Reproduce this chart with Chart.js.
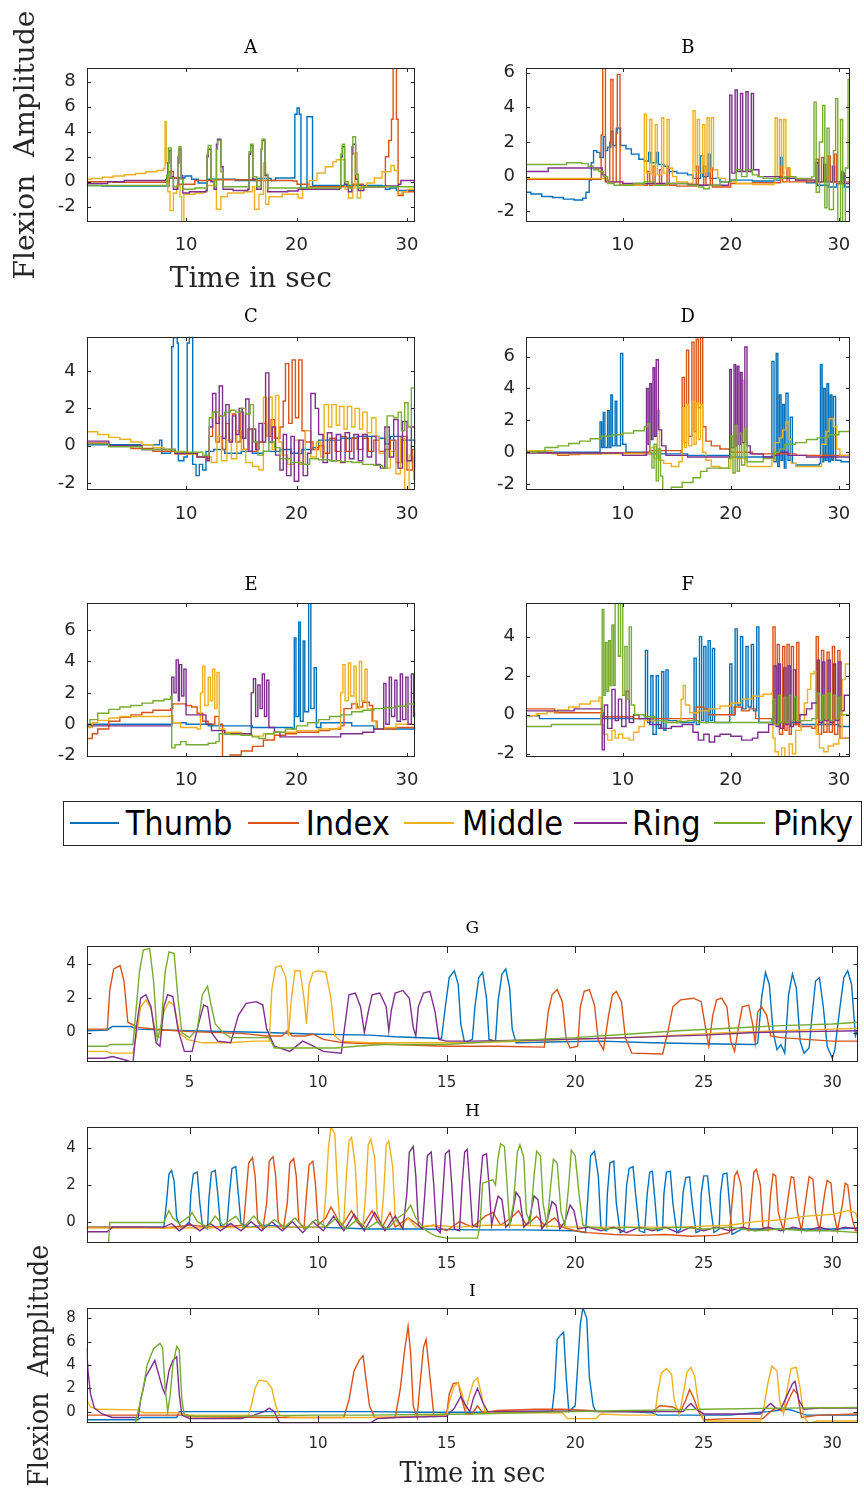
<!DOCTYPE html>
<html>
<head>
<meta charset="utf-8">
<script src="https://cdn.jsdelivr.net/npm/chart.js@4.4.1/dist/chart.umd.min.js"></script>
<style>
  html, body { margin: 0; padding: 0; background: #fff; width: 864px; height: 1490px; overflow: hidden; position: relative; }
  canvas { position: absolute; }
  #legend { position: absolute; left: 63px; top: 801px; width: 797px; height: 43px; border: 1px solid #262626; background: #fff; }
  #legend .ln { position: absolute; top: 20px; height: 2px; }
  #legend .tx { position: absolute; top: 0; line-height: 43px; font-family: 'DejaVu Sans Condensed', 'DejaVu Sans', sans-serif; font-stretch: condensed; font-size: 34px; color: #000; white-space: nowrap; }
</style>
</head>
<body>
<div id="legend"></div>
<script>
// ---- Series names and colours (finger flexion channels) ----
const SERIES = ['Thumb', 'Index', 'Middle', 'Ring', 'Pinky'];
const COLORS = ['#0072BD', '#D95319', '#EDB120', '#7E2F8E', '#77AC30'];

// ---- Tick labels ----
const X_TICKS_SMALL = [10, 20, 30];
const X_TICKS_WIDE = [5, 10, 15, 20, 25, 30];
const Y_TICKS_A = [-2, 0, 2, 4, 6, 8];
const Y_TICKS_B = [-2, 0, 2, 4, 6];
const Y_TICKS_C = [-2, 0, 2, 4];
const Y_TICKS_D = [-2, 0, 2, 4, 6];
const Y_TICKS_E = [-2, 0, 2, 4, 6];
const Y_TICKS_F = [-2, 0, 2, 4];
const Y_TICKS_G = [0, 2, 4];
const Y_TICKS_H = [0, 2, 4];
const Y_TICKS_I = [0, 2, 4, 6, 8];

// ---- Panel A: [time s, flexion] ----
const A_thumb = [[1.0,-0.3],[2.4,-0.35],[8.25,-0.35],[8.45,0.3],[9.9,0.45],[10.5,0.2],[11.1,-0.1],[11.9,0.2],[13.75,0.2],[14.45,0.1],[16.4,0.25],[17.7,0.1],[18.1,0.3],[19.7,0.3],[19.85,5.4],[20.05,5.9],[20.25,5.4],[20.4,-0.5],[20.95,5.2],[21.45,-0.3],[27.75,-0.35],[28.05,-0.6],[28.45,-0.5],[29.05,-0.7],[30.72,-0.8]];
const A_index = [[1.0,0],[3.4,-0.05],[8.25,0],[8.45,0.8],[8.85,0.3],[9.35,-0.2],[10.8,0.1],[12.3,0.15],[16.25,0.1],[19.7,0.05],[20.05,-0.2],[21.15,-0.4],[24.1,-0.4],[25.1,-0.2],[26.05,-0.4],[27.95,-0.4],[28.05,2.0],[28.35,3.3],[28.6,5.0],[28.75,9.5],[29.05,5.0],[29.2,-1.1],[29.65,-0.8],[30.72,-0.7]];
const A_middle = [[1.0,0.2],[1.45,0.25],[2.45,0.35],[3.4,0.45],[4.4,0.55],[5.4,0.65],[6.35,0.8],[7.35,0.9],[7.95,1.05],[8.1,4.8],[8.2,1.5],[8.35,-0.8],[8.55,-2.3],[8.85,-0.9],[9.15,-0.3],[9.45,-1.2],[9.6,-3.2],[9.8,-1.0],[10.8,-0.9],[11.6,-0.8],[11.9,-0.3],[12.55,-0.6],[12.75,-2.2],[13.15,-1.2],[13.75,-0.9],[15.25,-0.8],[16.0,-0.4],[16.2,-2.2],[16.6,-1.0],[17.0,1.5],[17.2,-1.8],[17.5,-1.2],[18.7,-1.0],[19.7,-1.0],[20.15,-1.3],[20.55,-0.6],[21.15,0.1],[21.85,0.7],[22.6,1.2],[23.3,1.6],[23.6,1.75],[24.4,-0.6],[24.7,-1.3],[25.1,-0.5],[25.3,2.3],[25.5,-1.3],[25.8,-0.4],[26.35,-0.1],[27.05,0.3],[27.75,0.8],[28.55,1.3],[28.85,0.9],[29.15,-1.0],[29.55,-0.8],[30.05,-0.6],[30.72,-0.5]];
const A_ring = [[1.0,-0.15],[2.9,0],[4.4,0.1],[8.15,0.15],[8.25,0.5],[8.35,1.5],[8.45,2.5],[8.65,0.4],[8.85,-0.6],[9.25,1.5],[9.35,2.6],[9.55,0.5],[9.7,-0.9],[10.3,-0.8],[11.8,-0.7],[11.9,2.0],[12.0,2.6],[12.25,0],[12.55,-0.6],[12.75,3.0],[12.85,3.4],[13.15,1.2],[13.35,-0.6],[14.25,-0.7],[15.6,-0.6],[15.7,2.2],[15.85,2.9],[16.05,0.2],[16.4,-0.6],[16.8,2.6],[16.9,3.3],[17.15,0.5],[17.4,-0.8],[19.2,-0.75],[20.15,-0.6],[22.1,-0.6],[23.9,-0.5],[24.0,2.0],[24.15,2.8],[24.35,-0.2],[24.7,-0.8],[25.0,2.2],[25.1,3.0],[25.35,0.2],[25.6,-0.7],[26.1,-0.4],[28.05,-0.35],[29.25,-0.2],[29.45,0.1],[30.72,0.1]];
const A_pinky = [[1.0,-0.3],[8.15,-0.3],[8.25,0.5],[8.4,2.7],[8.65,0.3],[8.85,-0.4],[9.25,2.0],[9.35,2.8],[9.55,0.2],[9.7,-0.6],[10.8,-0.5],[11.8,-0.5],[11.9,2.2],[12.0,2.9],[12.25,0.2],[12.55,-0.4],[12.75,2.6],[12.85,3.3],[13.15,0.8],[13.35,-0.4],[15.6,-0.4],[15.7,2.4],[15.85,3.0],[16.05,0.4],[16.4,-0.4],[16.8,2.6],[16.9,3.4],[17.15,0.6],[17.4,-0.5],[20.15,-0.5],[23.9,-0.5],[24.0,2.2],[24.15,3.0],[24.35,0],[24.7,-0.5],[25.0,2.8],[25.1,3.6],[25.35,0.6],[25.6,-0.5],[26.1,-0.4],[30.72,-0.35]];

// ---- Panel B ----
const B_thumb = [[1.05,-0.9],[1.5,-1.0],[2.5,-1.15],[3.5,-1.2],[4.5,-1.3],[5.5,-1.35],[6.3,-1.25],[6.6,-0.9],[6.9,-0.2],[7.1,0.8],[7.3,1.5],[7.6,1.4],[7.9,1.1],[8.2,2.3],[8.4,1.5],[8.6,1.7],[8.9,2.6],[9.1,1.8],[9.4,2.8],[9.8,1.8],[10.3,1.6],[10.8,1.3],[11.5,1.0],[12,0.9],[12.4,1.4],[12.6,0.8],[13.1,1.4],[13.3,0.7],[13.8,0.6],[14.3,0.3],[15,0.2],[16,0.1],[16.5,-0.1],[17.2,1.2],[17.4,0],[17.9,1.3],[18.1,-0.1],[19,-0.3],[20,-0.2],[22,-0.25],[24,-0.2],[24.6,1.1],[24.75,-0.1],[26,-0.2],[27,-0.35],[28,-0.5],[29,-0.6],[29.8,-0.4],[30.5,-0.6],[31,-0.3]];
const B_index = [[1.05,-0.15],[7.9,-0.15],[8.0,2.4],[8.15,6.3],[8.4,-0.2],[8.8,2.0],[8.9,5.6],[9.1,-0.3],[9.4,2.5],[9.5,5.9],[9.75,-0.5],[11,-0.5],[12.3,0.3],[12.5,-0.5],[12.8,0.6],[13.0,-0.5],[13.4,0.4],[13.6,-0.5],[14.1,0.5],[14.3,-0.5],[15,-0.55],[16.8,0.6],[17.0,-0.5],[17.5,0.6],[17.7,-0.5],[18.1,0.5],[18.3,-0.6],[19.5,-0.6],[20,-0.4],[22,-0.35],[24.3,-0.35],[24.6,0.6],[24.8,-0.3],[25.2,0.5],[25.4,-0.3],[27,-0.3],[27.8,-0.3],[27.9,1.0],[28.1,-0.3],[28.4,1.1],[28.6,-0.2],[29,1.2],[29.2,-0.3],[29.6,1.3],[29.8,-0.4],[30.2,0.3],[30.4,-0.3],[31,-0.2]];
const B_middle = [[1.05,-0.1],[8,-0.1],[8.5,-0.3],[10,-0.5],[11.9,-0.4],[12.0,3.6],[12.2,0.2],[12.5,3.3],[12.7,0.1],[13.0,3.0],[13.2,0.1],[13.6,3.4],[13.8,0.2],[14.1,3.3],[14.3,0.5],[14.6,0],[15,-0.3],[16,-0.4],[16.5,3.8],[16.7,0.3],[16.9,3.3],[17.1,0.2],[17.4,3.0],[17.6,0.3],[17.8,3.4],[18.0,0.3],[18.2,3.4],[18.4,0.4],[18.8,-0.1],[19.5,-0.3],[20.5,-0.4],[22,-0.45],[24,-0.4],[24.1,3.4],[24.3,0],[24.5,3.3],[24.7,0.1],[24.9,3.3],[25.1,0.5],[25.5,0],[26,-0.2],[28,-0.3],[31,-0.3]];
const B_ring = [[1.05,0.3],[3,0.3],[3.1,0.5],[7.8,0.5],[8.1,0.1],[8.4,-0.3],[10,-0.4],[16,-0.45],[17,-0.5],[19,-0.5],[19.8,-0.3],[19.9,4.7],[20.1,0.2],[20.4,5.0],[20.6,0.3],[20.9,4.8],[21.1,0.3],[21.4,4.9],[21.6,0.3],[21.9,4.8],[22.1,0.4],[22.6,0],[24,0],[24.5,-0.1],[26,-0.2],[27.8,-0.3],[27.9,0.8],[28.1,-0.3],[28.6,0.7],[28.8,-0.3],[29.4,0.6],[29.6,-0.3],[30.3,0.2],[30.5,-0.4],[31,1.2]];
const B_pinky = [[1.05,0.7],[4.5,0.7],[4.8,0.8],[6.2,0.75],[6.8,0.6],[7.3,0.4],[7.8,0.3],[8.2,0],[8.6,-0.4],[9.2,-0.5],[10,-0.5],[11,-0.4],[12,-0.3],[13,-0.5],[14,-0.4],[15,-0.4],[16,-0.5],[17,-0.6],[17.5,-0.7],[18,-0.5],[19,-0.3],[20,-0.2],[20.5,0.4],[21,0],[21.5,0.4],[22,0.1],[22.5,0],[23,-0.1],[24,-0.1],[25,0],[26,-0.1],[27.5,0],[27.7,4.3],[27.9,-0.9],[28.2,2.0],[28.5,4.1],[28.7,-1.8],[28.9,2.8],[29.1,-1.9],[29.5,1.5],[29.7,4.5],[29.9,-2.7],[30.15,3.3],[30.35,-2.7],[30.6,0.5],[30.85,5.6],[31,5.6]];

// ---- Panel C ----
const C_thumb = [[1.0,0.05],[7.5,0.05],[7.6,0.3],[7.8,-0.4],[8.6,-0.3],[8.7,5.3],[8.85,5.8],[9.2,5.5],[9.3,-0.8],[9.8,-0.6],[10.1,5.5],[10.3,5.9],[10.6,-1.0],[10.9,-1.6],[11.2,-1.0],[11.5,-1.3],[11.8,-0.3],[12.5,-0.2],[13.5,-0.4],[15,-0.3],[16,-0.4],[17,-0.3],[18.5,-0.2],[19.5,-0.4],[20.5,-0.2],[21.5,-0.1],[22,0.3],[24,0.4],[25.5,0.5],[27.5,0.4],[28,0.1],[28.5,0.5],[29.5,0.3],[30.75,0.1]];
const C_index = [[1.0,0.15],[3,0],[5,-0.15],[7,-0.3],[9,-0.45],[11,-0.6],[11.9,-0.7],[12.1,0.5],[12.4,1.8],[12.7,0.2],[13.0,1.6],[13.3,-0.2],[13.6,1.2],[13.9,0.3],[14.2,1.7],[14.5,0.2],[14.9,1.8],[15.2,-0.2],[15.6,0.9],[16,-0.3],[16.4,0.2],[17,1.2],[17.3,0.5],[17.7,1.4],[18,0.4],[18.5,1.0],[18.8,2.4],[19.0,4.4],[19.3,1.2],[19.6,4.6],[19.9,1.5],[20.2,4.6],[20.5,0.8],[20.8,0.2],[21.5,-0.2],[22,0],[22.5,-0.4],[23,0.4],[23.5,-0.3],[24,0.5],[24.5,-0.3],[25,0.4],[25.5,-0.2],[26,0.4],[26.5,-0.3],[27,0.3],[27.5,-0.3],[28,-0.2],[28.5,0.3],[29,-0.9],[29.5,0.5],[30,-1.3],[30.5,-0.2],[30.75,-1.8]];
const C_middle = [[1.0,0.75],[2,0.6],[3,0.45],[4,0.35],[5,0.2],[6,0.05],[7,-0.1],[8,-0.2],[9,-0.3],[10,-0.45],[11,-0.6],[12,-0.6],[12.3,-0.9],[12.8,0.5],[13.2,-0.8],[13.7,0.3],[14.1,-0.7],[14.6,0.8],[15.0,-0.2],[15.4,-0.9],[16,-1.1],[16.6,-1.3],[17.0,2.6],[17.3,0.5],[17.5,2.6],[17.8,-0.2],[18.1,2.7],[18.4,0.2],[18.7,-0.5],[19.2,-1.0],[19.8,0.3],[20.3,-1.0],[20.8,0.8],[21.3,-0.6],[21.8,0.2],[22.2,-0.6],[22.5,2.2],[22.9,1.0],[23.2,2.2],[23.6,1.1],[23.9,2.1],[24.3,0.9],[24.6,2.1],[25.0,1.0],[25.3,2.0],[25.7,0.9],[26.0,1.8],[26.4,0.7],[26.8,1.5],[27.2,0.5],[27.5,-0.4],[28,-1.2],[28.5,-0.3],[29,-1.5],[29.4,0.4],[29.8,-2.4],[30.2,-0.5],[30.6,-1.8],[30.75,-2.2]];
const C_ring = [[1.0,0.25],[3,0],[6,-0.2],[9,-0.4],[11,-0.6],[11.9,-0.8],[12.1,1.0],[12.4,2.8],[12.7,1.2],[13.0,3.2],[13.3,0.4],[13.6,2.2],[13.9,0.2],[14.2,1.6],[14.5,0.6],[14.8,2.0],[15.1,0.4],[15.4,2.5],[15.7,-0.3],[16.0,0.9],[16.3,-0.2],[16.6,1.2],[16.9,0.2],[17.2,3.9],[17.5,0.2],[17.8,1.0],[18.1,-0.5],[18.5,-1.3],[18.8,0.6],[19.1,-1.6],[19.5,0.5],[19.8,-1.9],[20.2,0.3],[20.6,-1.6],[21.0,-0.4],[21.3,2.8],[21.7,2.0],[22.0,0.6],[22.4,-0.9],[22.8,0.7],[23.2,-0.8],[23.6,0.6],[24.0,-0.9],[24.4,0.7],[24.8,-0.7],[25.2,0.6],[25.6,-0.8],[26.0,0.6],[26.4,-0.6],[26.8,0.5],[27.2,-1.0],[27.6,-1.2],[28.0,1.0],[28.4,-0.6],[28.8,1.4],[29.2,-1.2],[29.6,1.3],[30.0,-0.8],[30.4,1.0],[30.75,-1.2]];
const C_pinky = [[1.0,0.1],[3,-0.05],[6,-0.2],[9,-0.35],[11.5,-0.5],[12.0,-0.5],[12.1,1.5],[12.4,1.8],[13,1.6],[13.5,1.8],[14,1.9],[14.5,1.8],[15.0,2.0],[15.4,1.7],[15.8,2.2],[16.1,0.2],[16.5,-0.5],[17,-0.3],[17.5,0.2],[18,-0.1],[18.5,-0.7],[19.5,-0.9],[20.5,-1.0],[21.2,-0.7],[22,-0.75],[23,-0.8],[24,-0.85],[25,-0.9],[26,-1.0],[27,-1.05],[27.8,-1.2],[28.2,1.6],[28.8,1.5],[29.2,1.8],[29.5,0.8],[29.8,2.3],[30.1,1.0],[30.4,3.1],[30.7,1.2],[30.75,1.6]];

// ---- Panel D ----
const D_thumb = [[1.05,0],[7.8,0],[7.9,1.9],[8.05,0.3],[8.2,2.5],[8.35,0.3],[8.6,2.6],[8.75,0.3],[8.9,3.6],[9.05,0.4],[9.3,3.2],[9.45,0.4],[9.8,6.2],[10.0,0.5],[10.3,0],[12,-0.1],[14,-0.1],[16,-0.2],[18,-0.2],[20,-0.3],[22,-0.3],[23.7,-0.3],[23.8,5.7],[24.0,-0.6],[24.2,6.2],[24.35,-0.9],[24.5,3.6],[24.65,-0.5],[24.8,3.0],[24.95,-1.0],[25.1,3.7],[25.3,-0.5],[25.5,2.2],[25.7,-0.7],[26,-0.8],[27,-0.8],[28.2,-0.7],[28.3,5.5],[28.45,-0.6],[28.6,4.0],[28.75,-0.5],[28.9,4.3],[29.05,-0.6],[29.2,3.6],[29.35,-0.5],[29.5,3.5],[29.7,-0.5],[30.2,-0.6],[31,-0.7]];
const D_index = [[1.05,0],[3,-0.05],[4,-0.2],[5,-0.15],[6,-0.1],[8,-0.05],[12,0],[12.5,0.1],[15.4,0],[15.5,4.7],[15.7,0.6],[15.9,6.4],[16.1,1.0],[16.4,6.9],[16.6,1.3],[16.8,7.1],[17.0,2.8],[17.2,7.3],[17.4,1.6],[17.7,0.7],[18.2,0.4],[19,0.2],[20,0.0],[22,-0.1],[24,-0.1],[26,-0.2],[28,-0.2],[31,-0.3]];
const D_middle = [[1.05,0.1],[3,0.1],[3.5,-0.1],[12,-0.1],[12.6,0.3],[12.9,-0.4],[13.2,2.6],[13.4,-0.5],[13.8,-0.7],[14.5,-0.9],[15.2,-0.6],[15.5,2.8],[15.7,0.3],[15.9,3.0],[16.1,0.4],[16.4,3.2],[16.6,0.5],[16.8,3.1],[17.0,0.8],[17.2,3.0],[17.4,0],[17.7,-0.5],[18.2,-0.9],[19,-1.0],[19.8,-1.0],[20.0,-0.3],[20.4,1.0],[20.6,-0.4],[21.0,4.5],[21.2,-0.4],[21.5,-0.9],[23,-0.9],[23.8,-0.5],[24.1,0.6],[24.5,0.9],[24.8,1.4],[25.1,1.9],[25.4,0.8],[25.6,-0.7],[26,-0.9],[28,-0.9],[28.4,0.5],[28.8,1.3],[29.1,2.1],[29.5,1.6],[29.8,0.2],[30.1,-0.2],[31,-0.2]];
const D_ring = [[1.05,-0.05],[9.8,-0.05],[10,-0.2],[12.1,-0.2],[12.2,4.0],[12.35,0.5],[12.5,4.3],[12.65,0.8],[12.8,5.3],[12.95,1.0],[13.1,5.8],[13.3,1.4],[13.6,0.4],[14,-0.2],[16,-0.3],[18,-0.3],[19.8,-0.3],[19.9,5.2],[20.05,0.3],[20.3,5.5],[20.45,0.4],[20.6,5.4],[20.75,0.5],[20.9,5.0],[21.05,0.6],[21.3,6.6],[21.5,0.4],[21.8,-0.1],[23,-0.3],[24,-0.2],[24.5,0],[25.3,-0.2],[27,-0.3],[31,-0.4]];
const D_pinky = [[1.05,0],[2,0.05],[2.8,0.3],[4,0.4],[5,0.55],[6,0.7],[7,0.85],[8,1.0],[9,1.1],[10,1.2],[11,1.35],[12,1.6],[12.3,1.8],[12.5,0],[12.7,-1.0],[12.9,0.5],[13.1,-1.8],[13.3,0.2],[13.5,-1.5],[13.7,-2.4],[14.5,-2.2],[15.5,-1.9],[16.5,-1.6],[17.2,-1.2],[17.8,-1.0],[19.5,-1.0],[19.8,-0.4],[20.0,1.0],[20.2,-1.3],[20.4,1.7],[20.6,-1.2],[20.8,1.2],[21.0,-0.8],[21.3,1.5],[21.5,-0.6],[22,-0.6],[23,-0.4],[24,0],[24.5,0.2],[25,0.5],[26,0.6],[27,0.8],[28,0.9],[29,1.1],[30,1.3],[31,1.4]];

// ---- Panel E ----
const E_thumb = [[1.0,0],[8.5,0],[8.7,0.1],[10,0],[12,-0.1],[16,-0.2],[19.6,-0.3],[19.8,5.5],[19.95,0.5],[20.2,6.5],[20.35,0.2],[20.6,5.3],[20.75,0.8],[21.1,7.8],[21.3,1.0],[21.6,3.6],[21.8,-0.2],[22.2,0.1],[25,-0.1],[27,-0.3],[30.75,-0.35]];
const E_index = [[1.0,-0.9],[1.5,-0.6],[2,-0.3],[3,0.2],[4,0.45],[5,0.6],[6,0.75],[7,0.9],[8.6,1.0],[8.8,1.3],[10,1.2],[10.5,1.1],[11,0.7],[11.5,0.2],[12,0],[12.6,0.5],[13.0,0],[13.3,-2.1],[14,-1.95],[15,-1.7],[16,-1.4],[17,-1.0],[18,-0.7],[19,-0.6],[20,-0.5],[22,-0.4],[23,-0.3],[24,-0.1],[24.3,1.0],[25,1.3],[25.5,1.1],[26,1.4],[26.6,1.2],[26.9,0.2],[27.3,-0.3],[29,-0.2],[30.75,-0.1]];
const E_middle = [[1.0,-0.2],[1.5,0.1],[2,0.25],[3,0.4],[4,0.5],[8.6,0.55],[8.8,0.1],[9.5,-0.2],[11,-0.3],[11.3,2.0],[11.5,3.7],[11.7,1.2],[12.0,3.0],[12.2,1.5],[12.4,3.5],[12.6,1.0],[12.8,3.3],[13.0,-0.3],[13.5,-0.5],[15,-0.7],[16,-0.75],[17,-0.6],[18,-0.5],[20,-0.4],[22,-0.3],[23.8,-0.2],[24.0,2.0],[24.2,3.8],[24.4,1.5],[24.7,3.9],[24.9,1.8],[25.2,3.7],[25.4,1.0],[25.7,4.0],[25.9,1.5],[26.2,3.5],[26.4,1.0],[26.8,0.2],[27.2,-0.3],[28,-0.2],[29,0],[30,0],[30.75,0.2]];
const E_ring = [[1.0,-0.1],[8.6,-0.1],[8.7,3.0],[8.9,2.0],[9.1,4.1],[9.3,1.5],[9.4,3.8],[9.6,1.8],[9.8,3.5],[10.0,0.6],[11.5,0.6],[11.8,0],[12.3,-0.4],[13.5,-0.6],[15.8,-0.7],[15.9,2.0],[16.1,2.9],[16.3,0.5],[16.5,2.5],[16.7,1.0],[16.9,3.2],[17.1,0.5],[17.3,2.8],[17.5,-0.2],[18,-0.5],[18.5,-0.8],[22,-0.8],[24,-0.6],[26,-0.5],[27,-0.3],[27.8,-0.3],[27.9,2.6],[28.1,0],[28.4,3.0],[28.6,0.5],[28.9,2.8],[29.1,0.2],[29.4,3.2],[29.6,0.3],[29.9,3.0],[30.1,0],[30.4,3.2],[30.6,0.5],[30.75,0.8]];
const E_pinky = [[1.0,-0.1],[1.3,0.3],[2,0.7],[3,0.95],[4,1.1],[5,1.2],[6,1.35],[7,1.5],[8,1.6],[8.6,1.75],[8.7,-1.5],[9,-1.3],[9.5,-1.1],[10,-1.3],[11,-1.3],[12,-1.2],[12.7,-1.1],[13,-0.6],[14,-0.65],[15,-0.7],[16,-0.8],[16.6,-0.9],[17.2,-0.6],[18,-0.5],[19,-0.3],[20,-0.1],[21,0.1],[22,0.3],[23,0.5],[24,0.6],[25,0.8],[26,0.9],[27,1.0],[28,1.05],[29,1.15],[30,1.3],[30.75,1.4]];

// ---- Panel F ----
const F_thumb = [[1.05,-0.05],[2.2,-0.05],[2.3,-0.2],[8,-0.2],[10,-0.2],[12.0,-0.2],[12.1,3.3],[12.3,-0.4],[12.6,2.0],[12.8,-1.0],[13.1,2.0],[13.3,-0.7],[13.6,2.2],[13.8,-0.8],[14.0,2.3],[14.2,-0.3],[15,-0.4],[16.5,-0.4],[16.6,2.9],[16.8,-0.5],[17.1,4.0],[17.3,-0.3],[17.5,3.5],[17.7,-0.4],[17.9,3.8],[18.1,-0.3],[18.3,3.4],[18.5,-0.4],[19.8,-0.4],[19.9,2.6],[20.1,0],[20.4,4.4],[20.6,0.5],[20.9,4.0],[21.1,0.3],[21.4,3.5],[21.6,0.4],[21.9,3.6],[22.1,0.2],[22.4,4.5],[22.6,-0.4],[24,-0.4],[26,-0.5],[29,-0.5],[30,-0.6],[31,-0.8]];
const F_index = [[1.05,0.3],[3.5,0.3],[3.7,0.1],[8,0.1],[8.2,-0.1],[10.5,-0.1],[11,-0.2],[16.5,-0.2],[16.8,0.4],[17.5,0.3],[18,0],[20,0],[20.3,0.4],[21,0.2],[21.7,0.3],[22.3,-0.2],[23.8,-0.3],[23.9,4.5],[24.1,-0.5],[24.3,3.6],[24.5,-1.0],[24.8,3.5],[25.0,-0.8],[25.2,3.6],[25.4,-1.0],[25.6,3.5],[25.8,-0.5],[26.1,3.7],[26.3,-0.6],[27.5,-0.7],[27.8,-0.6],[27.9,4.0],[28.1,-1.0],[28.4,3.3],[28.6,-0.9],[28.9,3.2],[29.1,-0.9],[29.4,3.5],[29.6,-1.0],[29.9,3.3],[30.1,-1.2],[30.5,-1.2],[31,-1.4]];
const F_middle = [[1.05,-0.05],[2,0.05],[3,0.15],[4,0.25],[5,0.4],[6,0.55],[7,0.7],[7.8,0.9],[8.0,-0.5],[8.2,-1.0],[8.6,-1.3],[9.0,-0.8],[9.3,-1.2],[9.6,-1.0],[10,-1.2],[10.6,-1.3],[11,-0.9],[11.5,-0.6],[12,-0.3],[14,-0.4],[15.2,-0.3],[15.4,0.8],[15.6,1.5],[15.8,0.5],[16.2,0.1],[17,0.2],[18,0.3],[19,0.45],[20,0.6],[21,0.8],[22,0.95],[23,1.05],[23.8,1.15],[23.9,-1.2],[24.1,-1.9],[24.4,-2.2],[24.7,-1.7],[25,-2.2],[25.4,-1.5],[25.7,-2.0],[26.0,-0.8],[26.5,-0.3],[26.8,0.6],[27.1,1.3],[27.4,2.1],[27.7,2.2],[27.9,-1.0],[28.2,-1.7],[28.6,-1.9],[29.0,-1.6],[29.5,-1.5],[30.0,-1.2],[30.3,1.8],[30.6,2.6],[31,2.8]];
const F_ring = [[1.05,0.2],[5,0.2],[5.5,0.3],[8,0.3],[8.1,-1.8],[8.3,0.5],[8.6,-0.7],[9,1.3],[9.3,-0.3],[9.6,0.8],[9.9,-0.6],[10.3,1.2],[10.6,-0.4],[11,0],[11.5,-0.2],[12.5,-0.5],[13.5,-0.7],[14.5,-0.6],[15.5,-0.5],[16.5,-0.9],[17,-1.3],[17.5,-1.0],[18,-1.4],[18.5,-1.1],[19,-1.0],[20,-1.1],[21,-1.3],[22,-1.2],[22.5,-0.9],[23.5,-0.5],[23.9,-0.2],[24.0,2.5],[24.2,-0.6],[24.4,2.6],[24.6,-0.7],[24.9,2.4],[25.1,-0.5],[25.3,2.5],[25.5,-0.6],[25.8,2.3],[26.0,-0.4],[26.4,0],[27,0.3],[27.5,0.6],[27.9,0.6],[28.0,2.8],[28.2,-0.4],[28.5,2.7],[28.7,-0.3],[29.0,2.8],[29.2,-0.4],[29.5,2.6],[29.7,-0.3],[30.0,2.7],[30.2,0.2],[30.5,1.0],[31,1.2]];
const F_pinky = [[1.05,-0.6],[3.3,-0.6],[3.4,-0.5],[7.8,-0.5],[8.0,0],[8.1,5.4],[8.25,1.0],[8.4,3.7],[8.55,1.2],[8.7,3.8],[8.85,1.5],[9.0,4.6],[9.15,1.5],[9.3,5.8],[9.6,3.0],[9.8,5.8],[10.0,1.0],[10.2,3.5],[10.4,0.8],[10.6,4.5],[10.8,0.5],[11.1,0],[12,-0.1],[13,-0.3],[14,-0.4],[15,-0.35],[16,-0.3],[17,-0.4],[20,-0.4],[23.8,-0.4],[23.9,0.8],[24.1,-0.5],[24.4,1.0],[24.6,-0.4],[24.9,0.9],[25.1,-0.4],[25.4,1.0],[25.6,-0.3],[25.9,0.9],[26.1,-0.3],[26.5,-0.3],[27.5,-0.2],[27.9,-0.2],[28.0,1.1],[28.2,-0.3],[28.5,1.0],[28.7,-0.2],[29.0,1.1],[29.2,-0.3],[29.5,1.0],[29.7,-0.2],[30.0,0.9],[30.2,0],[31,0.1]];

// ---- Panel G ----
const G_thumb = [[1,0.1],[1.8,0.15],[2,0.35],[2.7,0.35],[3,0.2],[5,0.1],[8,0],[10,-0.1],[12,-0.15],[13,-0.25],[14.8,-0.35],[14.95,1.5],[15.1,3.2],[15.3,3.6],[15.45,2.8],[15.55,0.5],[15.7,-0.6],[16.0,-0.4],[16.1,1.5],[16.25,3.2],[16.4,3.5],[16.55,2.0],[16.65,-0.4],[16.9,-0.5],[17.0,1.8],[17.15,3.4],[17.3,3.7],[17.45,2.6],[17.55,0.2],[17.7,-0.6],[19,-0.55],[21,-0.5],[23,-0.6],[25,-0.65],[27,-0.7],[27.1,-0.6],[27.25,2.0],[27.4,3.5],[27.55,2.8],[27.7,0],[27.85,-1.0],[28.0,-0.7],[28.15,-1.2],[28.3,2.2],[28.45,3.4],[28.6,2.6],[28.75,-0.5],[28.9,-1.2],[29.1,-0.9],[29.2,0.8],[29.35,3.0],[29.5,3.2],[29.65,1.5],[29.8,-0.8],[30.0,-1.5],[30.1,-1.0],[30.3,1.5],[30.45,3.2],[30.6,3.6],[30.75,2.8],[30.9,-0.2],[31,0.2]];
const G_index = [[1,0.2],[1.8,0.2],[1.9,2.5],[2.05,3.7],[2.3,3.9],[2.45,3.0],[2.6,0.6],[3,0.3],[4,0.15],[5,0.05],[7,-0.05],[8,-0.2],[8.6,-0.2],[8.8,0.1],[9.0,-0.2],[9.5,-0.2],[9.8,-0.1],[10.2,-0.4],[11,-0.6],[13,-0.7],[15,-0.8],[17,-0.8],[18.8,-0.85],[18.95,1.2],[19.1,2.2],[19.3,2.5],[19.5,1.8],[19.65,-0.4],[19.8,-0.9],[20.1,-0.8],[20.2,1.5],[20.35,2.4],[20.55,2.5],[20.75,1.6],[20.9,-0.5],[21.1,-1.0],[21.3,1.0],[21.45,2.2],[21.6,2.4],[21.8,1.8],[21.95,-0.3],[22.2,-1.2],[23.4,-1.25],[23.6,0],[23.8,1.5],[24.1,1.9],[24.6,2.0],[24.9,1.8],[25.1,0],[25.2,-0.8],[25.35,1.0],[25.5,1.9],[25.7,2.0],[25.9,1.5],[26.05,-0.5],[26.2,-1.1],[26.35,0.3],[26.5,1.5],[26.75,1.6],[26.9,0.5],[27.0,-0.6],[27.1,1.2],[27.25,1.5],[27.45,1.0],[27.6,-0.2],[28,-0.3],[29,-0.4],[30,-0.5],[31,-0.5]];
const G_middle = [[1,-1.1],[1.8,-1.1],[1.9,-1.2],[2.8,-1.2],[2.95,0],[3.1,1.5],[3.3,1.9],[3.5,1.4],[3.7,-0.2],[3.85,-0.3],[4.0,1.2],[4.2,1.8],[4.4,1.6],[4.6,0],[4.9,-0.4],[5.5,-0.6],[6.5,-0.6],[7.5,-0.5],[8.1,-0.5],[8.2,2.5],[8.35,3.8],[8.55,3.9],[8.75,3.2],[8.85,-0.2],[8.95,1.8],[9.1,3.6],[9.3,3.6],[9.45,2.0],[9.55,0.5],[9.65,2.8],[9.8,3.5],[10.0,3.6],[10.3,3.5],[10.5,2.0],[10.65,-0.2],[10.9,-0.5],[12,-0.6],[14,-0.6],[16,-0.6],[18,-0.5],[20,-0.4],[22,-0.3],[24,-0.15],[26,0],[28,0.1],[30,0.2],[31,0.25]];
const G_ring = [[1,-1.5],[1.7,-1.5],[2.0,-1.4],[2.5,-1.6],[2.8,-1.75],[2.95,0.5],[3.1,2.0],[3.3,2.2],[3.5,1.5],[3.7,-0.6],[3.85,-0.8],[4.0,1.5],[4.15,2.2],[4.35,2.1],[4.55,0.2],[4.8,-1.1],[5.1,-1.1],[5.35,0.5],[5.55,1.6],[5.7,1.5],[5.85,0],[6.1,-0.5],[6.6,-0.6],[6.9,1.0],[7.2,1.7],[7.6,1.8],[7.85,1.6],[8.0,0.2],[8.3,-0.8],[8.9,-1.1],[9.4,-0.5],[9.7,-0.7],[10.2,-1.1],[10.9,-1.2],[11.05,0.5],[11.2,2.2],[11.45,2.3],[11.65,1.5],[11.8,0],[11.95,1.2],[12.1,2.2],[12.4,2.3],[12.65,1.5],[12.75,0.1],[12.85,1.3],[13.0,2.3],[13.3,2.45],[13.55,2.0],[13.7,0.3],[13.8,-0.2],[13.9,1.5],[14.1,2.3],[14.35,2.4],[14.55,1.2],[14.7,-0.4],[15,-0.5],[16,-0.5],[18,-0.45],[19.5,-0.4],[22,-0.3],[25,-0.15],[27,0],[29,0.05],[31,0.1]];
const G_pinky = [[1,-0.8],[1.8,-0.8],[1.9,-0.7],[2.8,-0.7],[2.9,1.0],[3.05,3.5],[3.2,4.8],[3.45,4.9],[3.6,3.0],[3.75,-0.4],[3.9,0.5],[4.05,3.5],[4.2,4.7],[4.4,4.6],[4.55,2.0],[4.7,0],[5.0,-0.3],[5.3,0.2],[5.5,2.2],[5.7,2.7],[5.85,1.5],[6.0,0.5],[6.3,0],[6.6,-0.3],[8.1,-0.3],[8.3,-0.9],[10.7,-0.9],[11.5,-0.8],[12.5,-0.7],[15,-0.7],[17,-0.5],[18.5,-0.4],[20,-0.3],[22,-0.1],[24,0.1],[26,0.25],[28,0.4],[30,0.5],[31,0.6]];

// ---- Panel H ----
const H_thumb = [[1,-0.3],[4.0,-0.3],[4.1,1.0],[4.2,2.6],[4.3,2.8],[4.4,2.2],[4.5,0.2],[4.7,-0.4],[5.0,0],[5.05,1.5],[5.15,2.6],[5.3,2.7],[5.4,1.0],[5.5,-0.2],[5.7,-0.4],[5.75,1.2],[5.85,2.7],[6.0,2.8],[6.1,1.5],[6.2,-0.2],[6.45,-0.3],[6.55,1.5],[6.65,2.9],[6.8,3.0],[6.9,1.5],[7.0,-0.1],[7.3,-0.3],[8,-0.2],[9,-0.3],[10,-0.3],[12,-0.4],[14,-0.4],[16,-0.45],[18,-0.45],[20,-0.5],[20.4,-0.6],[20.5,1.5],[20.6,3.6],[20.75,3.85],[20.9,2.5],[21.0,-0.3],[21.2,-0.5],[21.25,1.5],[21.35,3.2],[21.5,3.3],[21.6,1.0],[21.75,-0.6],[21.9,-0.5],[22.0,2.0],[22.1,2.9],[22.25,3.0],[22.35,1.5],[22.5,-0.5],[22.7,-0.6],[22.8,1.5],[22.9,2.7],[23.0,2.75],[23.1,1.2],[23.2,-0.5],[23.4,-0.4],[23.45,1.5],[23.55,2.7],[23.7,2.75],[23.8,1.0],[23.95,-0.6],[24.1,-0.4],[24.2,1.6],[24.3,2.4],[24.45,2.45],[24.55,1.0],[24.7,-0.6],[24.85,-0.5],[24.9,1.5],[25.0,2.5],[25.15,2.5],[25.25,1.0],[25.4,-0.6],[25.6,-0.4],[25.65,1.5],[25.75,2.6],[25.9,2.65],[26.0,1.0],[26.1,-0.7],[26.5,-0.4],[28,-0.4],[30,-0.4],[31,-0.35]];
const H_index = [[1,-0.3],[3,-0.3],[4,-0.35],[5,-0.2],[6,-0.3],[7.1,-0.2],[7.2,1.5],[7.3,3.2],[7.45,3.5],[7.55,2.5],[7.65,0],[7.85,-0.4],[8.0,1.0],[8.1,3.3],[8.25,3.55],[8.35,2.5],[8.45,0],[8.65,-0.4],[8.8,1.0],[8.9,3.2],[9.05,3.45],[9.15,2.5],[9.25,0],[9.45,-0.4],[9.55,1.5],[9.65,3.1],[9.8,3.3],[9.9,2.0],[10.0,-0.2],[10.3,0.2],[10.5,0.8],[10.7,0.3],[10.9,-0.3],[11.3,0.6],[11.5,0],[11.7,-0.3],[12.1,0.6],[12.3,0],[12.5,-0.3],[12.8,0.5],[13.0,-0.3],[13.5,0.2],[14,-0.3],[14.5,-0.2],[15,-0.5],[15.5,0],[16,-0.3],[16.5,0.3],[16.8,0.5],[17.1,-0.2],[17.5,0.2],[17.8,0.6],[18.1,-0.2],[18.5,0.3],[18.8,-0.2],[19.2,0.2],[19.5,-0.3],[20,-0.5],[20.5,-0.6],[21.5,-0.7],[22.5,-0.75],[23.5,-0.7],[24.5,-0.8],[25.5,-0.75],[26.0,-0.6],[26.1,1.0],[26.2,2.5],[26.3,2.75],[26.45,2.0],[26.55,-0.3],[26.75,-0.5],[26.85,1.2],[26.95,2.7],[27.05,2.85],[27.2,2.0],[27.3,-0.3],[27.5,-0.5],[27.6,1.5],[27.7,2.6],[27.8,2.5],[27.9,0.5],[28.1,-0.5],[28.3,1.5],[28.4,2.45],[28.5,2.4],[28.65,0.5],[28.8,-0.5],[29.0,1.5],[29.1,2.45],[29.25,2.3],[29.35,0.5],[29.5,-0.5],[29.7,1.5],[29.8,2.25],[29.95,2.1],[30.05,0.5],[30.2,-0.5],[30.4,1.0],[30.5,2.1],[30.6,2.0],[30.75,0.3],[30.9,-0.5],[31,-0.5]];
const H_middle = [[1,-0.35],[5,-0.35],[8,-0.3],[10.2,-0.3],[10.3,1.5],[10.4,4.0],[10.5,5.15],[10.65,4.8],[10.75,2.0],[10.85,-0.2],[11.0,0],[11.1,2.5],[11.2,4.4],[11.3,4.6],[11.45,3.0],[11.55,0],[11.75,-0.2],[11.85,1.5],[11.95,4.2],[12.05,4.5],[12.2,3.5],[12.3,0.5],[12.45,-0.2],[12.55,1.5],[12.65,4.2],[12.75,4.4],[12.9,3.0],[13.0,0.2],[13.2,-0.3],[13.5,0.2],[13.8,-0.3],[14.5,-0.2],[15.5,-0.3],[16.5,-0.2],[18,-0.2],[20,-0.3],[22,-0.3],[24,-0.3],[26,-0.2],[27,0],[28,0.1],[29,0.3],[30,0.4],[30.6,0.6],[30.9,0.5],[31,0.1]];
const H_ring = [[1,-0.55],[1.8,-0.55],[2.0,-0.3],[4,-0.3],[4.3,-0.1],[4.6,-0.5],[5.0,-0.1],[5.4,-0.5],[5.8,-0.1],[6.2,-0.5],[6.6,-0.1],[7.0,-0.5],[7.4,0],[7.8,-0.5],[8.2,0],[8.6,-0.5],[9.0,0],[9.4,-0.6],[9.8,0],[10.2,-0.5],[10.6,0.3],[11.0,-0.5],[11.4,0.4],[11.8,-0.5],[12.2,0.5],[12.6,-0.5],[13.0,0.3],[13.3,-0.4],[13.45,1.5],[13.55,3.8],[13.7,4.1],[13.8,2.5],[13.9,-0.2],[14.05,-0.4],[14.15,1.5],[14.25,3.6],[14.4,3.8],[14.5,2.0],[14.6,-0.4],[14.75,-0.6],[14.85,1.5],[14.95,3.7],[15.1,3.9],[15.2,2.0],[15.3,-0.4],[15.5,-0.5],[15.6,2.0],[15.7,3.8],[15.8,3.95],[15.9,2.0],[16.0,-0.2],[16.2,-0.3],[16.3,2.0],[16.4,3.6],[16.55,3.7],[16.65,2.0],[16.75,-0.2],[16.85,0.5],[17.0,1.4],[17.15,1.2],[17.3,-0.3],[17.5,0],[17.7,1.6],[17.85,1.3],[18.0,-0.3],[18.2,0],[18.4,1.4],[18.55,1.2],[18.7,-0.4],[18.9,0],[19.1,1.1],[19.25,0.9],[19.4,-0.4],[19.6,0],[19.8,0.9],[19.95,0.6],[20.1,-0.4],[20.5,-0.3],[21,-0.5],[21.5,-0.3],[22,-0.6],[22.5,-0.3],[23,-0.5],[23.5,-0.3],[24,-0.6],[24.5,-0.3],[25,-0.5],[25.5,-0.3],[26,-0.5],[26.5,-0.3],[27,-0.5],[27.5,-0.3],[28,-0.5],[28.5,-0.3],[29,-0.5],[29.5,-0.3],[30,-0.5],[30.5,-0.3],[31,-0.4]];
const H_pinky = [[1,-1.15],[1.85,-1.15],[1.9,-0.05],[4,-0.05],[4.1,0.3],[4.2,0.6],[4.35,0.2],[4.6,-0.1],[5.0,0.3],[5.1,0.5],[5.3,0],[5.7,-0.3],[6.0,0.3],[6.3,-0.2],[6.8,0.3],[7.1,-0.3],[7.5,0.3],[7.9,-0.3],[8.3,0.1],[8.7,-0.3],[9.1,0.2],[9.5,-0.4],[9.9,0.1],[10.3,-0.3],[10.7,0.2],[11.1,-0.4],[11.5,0.1],[11.9,-0.4],[12.3,0],[12.7,-0.4],[13.1,0.2],[13.4,0.5],[13.6,0.9],[13.8,0.2],[14.2,-0.5],[14.6,-0.8],[15.0,-0.9],[16.2,-0.9],[16.3,-0.2],[16.4,2.1],[16.6,2.2],[16.8,2.3],[16.9,2.0],[17.0,3.5],[17.1,4.25],[17.25,4.1],[17.35,2.0],[17.45,-0.2],[17.6,1.0],[17.75,3.8],[17.85,4.2],[18.0,3.5],[18.1,0.5],[18.25,-0.1],[18.4,2.5],[18.5,3.85],[18.65,3.6],[18.75,1.0],[18.9,-0.2],[19.05,2.0],[19.15,3.4],[19.3,3.2],[19.45,0.5],[19.6,-0.2],[19.75,2.0],[19.85,3.9],[20.0,3.6],[20.15,1.5],[20.3,-0.2],[20.6,-0.3],[21.2,-0.4],[22,-0.3],[23,-0.4],[24,-0.3],[25,-0.4],[26,-0.3],[27,-0.5],[28,-0.4],[29,-0.5],[30,-0.5],[31,-0.6]];

// ---- Panel I ----
const I_thumb = [[1,-0.7],[3,-0.7],[3.1,-0.5],[4.5,-0.5],[4.6,0],[8,0],[10,0],[12,0],[14,-0.05],[16,-0.05],[18,0],[19.1,0],[19.2,2.0],[19.3,6.2],[19.45,6.6],[19.55,6.8],[19.65,3.0],[19.75,0],[20.0,0.5],[20.1,4.0],[20.2,7.5],[20.3,8.9],[20.45,8.0],[20.55,3.0],[20.7,0.5],[20.8,0],[22,0],[23,-0.1],[23.2,-0.3],[25,-0.3],[26,-0.3],[27,-0.1],[27.5,0],[28.3,0.2],[28.6,0],[29,-0.3],[31,-0.3]];
const I_index = [[1,-0.3],[4.8,-0.3],[5.0,-0.45],[8,-0.5],[10,-0.5],[11.0,-0.5],[11.2,1.0],[11.4,3.5],[11.6,4.4],[11.75,4.8],[11.85,3.0],[12.0,0.5],[12.2,-0.5],[13.0,-0.5],[13.2,2.0],[13.35,5.0],[13.5,7.3],[13.6,5.0],[13.7,0.5],[13.85,-0.5],[13.95,2.0],[14.1,5.5],[14.2,6.2],[14.35,3.0],[14.5,-0.3],[15.0,-0.2],[15.1,1.5],[15.25,2.4],[15.45,2.5],[15.6,1.0],[15.75,-0.2],[16.0,-0.2],[16.2,0.5],[16.4,-0.1],[17,0.1],[18.5,0.2],[19.5,0.2],[20.5,0.1],[21,0],[23,0],[23.3,0.5],[23.8,0.4],[24.1,0],[24.3,1.0],[24.45,1.9],[24.6,1.2],[24.8,0],[25.0,-0.7],[26,-0.6],[27.3,-0.6],[27.6,0],[27.8,0.3],[28.1,0],[28.3,1.0],[28.5,1.9],[28.65,1.5],[28.8,-0.5],[29.5,-0.3],[31,-0.2]];
const I_middle = [[1,1.0],[1.15,0.4],[1.4,0.2],[3,0.15],[3.2,-0.1],[4.5,-0.1],[5.0,-0.3],[7.3,-0.3],[7.4,0.5],[7.55,2.0],[7.7,2.7],[8.0,2.6],[8.2,2.0],[8.35,0.5],[8.5,-0.3],[9,-0.5],[12,-0.5],[13,-0.45],[15.0,-0.3],[15.15,1.2],[15.3,2.2],[15.45,2.5],[15.6,1.5],[15.75,0.2],[15.9,1.5],[16.05,2.6],[16.2,2.9],[16.35,1.5],[16.5,0],[17,-0.1],[19.5,-0.1],[19.7,-0.6],[20.8,-0.6],[21.0,-0.2],[22,-0.3],[23.1,-0.3],[23.2,1.5],[23.35,3.3],[23.55,3.7],[23.75,3.2],[23.85,1.0],[24.05,-0.3],[24.2,1.5],[24.35,3.4],[24.5,3.8],[24.65,3.0],[24.8,0.5],[25.0,-0.8],[27.2,-0.8],[27.35,0.5],[27.5,2.5],[27.65,3.9],[27.85,3.5],[27.95,1.0],[28.1,-0.2],[28.25,2.0],[28.4,3.7],[28.6,3.8],[28.75,2.0],[28.9,-0.5],[29.1,-1.0],[29.4,-0.8],[31,-0.8]];
const I_ring = [[1,5.5],[1.05,3.5],[1.15,1.5],[1.3,0.3],[1.6,-0.2],[2,-0.5],[3.0,-0.5],[3.1,1.0],[3.3,3.0],[3.5,3.8],[3.65,4.4],[3.8,3.2],[3.95,2.0],[4.05,1.5],[4.2,3.5],[4.35,4.4],[4.5,4.7],[4.6,1.5],[4.7,-0.3],[5.0,-0.6],[7,-0.6],[7.5,-0.3],[7.9,0],[8.1,0.3],[8.3,0],[8.5,-1.0],[12,-1.0],[12.3,-0.6],[13,-0.5],[15.0,-0.4],[15.3,0.3],[15.55,1.3],[15.75,0.5],[15.9,0],[16.05,1.2],[16.2,2.0],[16.4,0.8],[16.6,0],[17,0],[19,0.05],[22,0],[24.2,0],[24.35,0.4],[24.5,0.7],[24.7,0.2],[25,-0.2],[27.2,-0.2],[27.45,0.4],[27.6,0.7],[27.8,0.3],[28.0,0.2],[28.2,1.2],[28.45,2.4],[28.55,2.6],[28.7,1.0],[28.9,0.2],[29.5,0.3],[31,0.3]];
const I_pinky = [[1,-0.95],[2.9,-0.95],[3.05,0.5],[3.2,2.0],[3.35,4.0],[3.6,5.4],[3.85,5.85],[3.95,5.5],[4.05,2.0],[4.15,0],[4.25,1.5],[4.35,4.0],[4.5,5.6],[4.6,5.3],[4.7,1.0],[4.8,-0.3],[5.2,-0.4],[7,-0.4],[8,-0.35],[10,-0.3],[12,-0.3],[14,-0.25],[16,-0.2],[18,-0.1],[20,0],[22,0.1],[24,0.15],[25,0.2],[28,0.3],[31,0.35]];

// ---- Page geometry for each panel (canvas box, plot box, title centre) ----
const GEOM = {
  A: { cl: 0,   ct: 0,    cw: 432, ch: 302, l: 86.7, t: 68.3,   r: 418.3, b: 221.7,  ty: 48 },
  B: { cl: 440, ct: 28,   cw: 424, ch: 234, l: 526,  t: 68.3,   r: 857.3, b: 221.7,  ty: 48 },
  C: { cl: 30,  ct: 298,  cw: 402, ch: 222, l: 86.7, t: 336.7,  r: 418.3, b: 490,    ty: 317 },
  D: { cl: 440, ct: 298,  cw: 424, ch: 222, l: 526,  t: 336.7,  r: 857.3, b: 490,    ty: 317 },
  E: { cl: 30,  ct: 565,  cw: 402, ch: 225, l: 86.7, t: 603.3,  r: 418.3, b: 756.7,  ty: 585 },
  F: { cl: 440, ct: 565,  cw: 424, ch: 225, l: 526,  t: 603.3,  r: 857.3, b: 756.7,  ty: 585 },
  G: { cl: 45,  ct: 910,  cw: 819, ch: 185, l: 86.7, t: 946,    r: 858,   b: 1061.7, ty: 929 },
  H: { cl: 45,  ct: 1093, cw: 819, ch: 180, l: 86.7, t: 1127.3, r: 858,   b: 1242.7, ty: 1111.5 },
  I: { cl: 0,   ct: 1236, cw: 864, ch: 254, l: 86.7, t: 1308.3, r: 858,   b: 1423.3, ty: 1292 }
};

// ---- Panel table built from the arrays above ----
const PANELS = [
  { id: 'A', series: [A_thumb, A_index, A_middle, A_ring, A_pinky], x: [1.0, 30.72], y: [-3.2, 9.07],  xt: X_TICKS_SMALL, yt: Y_TICKS_A, small: true, axisTitles: 'top' },
  { id: 'B', series: [B_thumb, B_index, B_middle, B_ring, B_pinky], x: [1.05, 31.0], y: [-2.6, 6.25],  xt: X_TICKS_SMALL, yt: Y_TICKS_B, small: true },
  { id: 'C', series: [C_thumb, C_index, C_middle, C_ring, C_pinky], x: [1.0, 30.75], y: [-2.37, 5.84], xt: X_TICKS_SMALL, yt: Y_TICKS_C, small: true },
  { id: 'D', series: [D_thumb, D_index, D_middle, D_ring, D_pinky], x: [1.05, 31.0], y: [-2.37, 7.25], xt: X_TICKS_SMALL, yt: Y_TICKS_D, small: true },
  { id: 'E', series: [E_thumb, E_index, E_middle, E_ring, E_pinky], x: [1.0, 30.75], y: [-2.06, 7.7],  xt: X_TICKS_SMALL, yt: Y_TICKS_E, small: true },
  { id: 'F', series: [F_thumb, F_index, F_middle, F_ring, F_pinky], x: [1.05, 31.0], y: [-2.15, 5.71], xt: X_TICKS_SMALL, yt: Y_TICKS_F, small: true },
  { id: 'G', series: [G_thumb, G_index, G_middle, G_ring, G_pinky], x: [1.0, 31.0],  y: [-1.7, 5.04],  xt: X_TICKS_WIDE,  yt: Y_TICKS_G, small: false },
  { id: 'H', series: [H_thumb, H_index, H_middle, H_ring, H_pinky], x: [1.0, 31.0],  y: [-1.15, 5.15], xt: X_TICKS_WIDE,  yt: Y_TICKS_H, small: false },
  { id: 'I', series: [I_thumb, I_index, I_middle, I_ring, I_pinky], x: [1.0, 31.0],  y: [-1.0, 8.86],  xt: X_TICKS_WIDE,  yt: Y_TICKS_I, small: false, axisTitles: 'bottom' }
];

Chart.defaults.font.family = "'DejaVu Sans', sans-serif";
Chart.defaults.color = '#262626';

// Box around the plot area plus inward tick marks on all four sides
const framePlugin = {
  id: 'frame',
  afterDatasetsDraw(chart, args, opts) {
    const { ctx, chartArea: a, scales } = chart;
    const L = Math.round(a.left) + 0.5, R = Math.round(a.right) - 0.5;
    const T = Math.round(a.top) + 0.5, B = Math.round(a.bottom) - 0.5;
    ctx.save();
    ctx.strokeStyle = '#262626';
    ctx.lineWidth = 1;
    ctx.strokeRect(L, T, R - L, B - T);
    ctx.beginPath();
    scales.x.ticks.forEach(tk => {
      const px = Math.round(scales.x.getPixelForValue(tk.value)) + 0.5;
      ctx.moveTo(px, B); ctx.lineTo(px, B - opts.xLen);
      ctx.moveTo(px, T); ctx.lineTo(px, T + opts.xLen);
    });
    scales.y.ticks.forEach(tk => {
      const py = Math.round(scales.y.getPixelForValue(tk.value)) + 0.5;
      ctx.moveTo(L, py); ctx.lineTo(L + opts.yLen, py);
      ctx.moveTo(R, py); ctx.lineTo(R - opts.yLen, py);
    });
    ctx.stroke();
    ctx.restore();
  }
};

function buildPanel(p) {
  const g = GEOM[p.id];
  const cv = document.createElement('canvas');
  cv.width = g.cw; cv.height = g.ch;
  cv.style.left = g.cl + 'px'; cv.style.top = g.ct + 'px';
  cv.style.width = g.cw + 'px'; cv.style.height = g.ch + 'px';
  document.body.appendChild(cv);

  const titleSize = p.small ? 18 : 17;
  const tickSize = p.small ? 18 : 15;
  const xLabelGap = p.small ? 24 : 21;
  const tickLine = tickSize * 1.2;

  const yWidth = g.l - g.cl;
  const xHeight = (g.ct + g.ch) - g.b;
  const padTop = g.ty - g.ct - titleSize / 2;
  const titleGap = g.t - g.ty - titleSize / 2;
  const padRight = (g.cl + g.cw) - g.r;

  const serif = "'DejaVu Serif', serif";
  const serifNarrow = "'DejaVu Serif Condensed', 'DejaVu Serif', serif";

  let xTitle = { display: false }, yTitle = { display: false };
  if (p.axisTitles === 'top') {
    xTitle = { display: true, text: 'Time in sec', color: '#262626', font: { family: serif, size: 28, lineHeight: 1 }, padding: { top: 0, bottom: 8 } };
    yTitle = { display: true, text: 'Flexion  Amplitude', color: '#262626', font: { family: serif, size: 28, lineHeight: 1 }, padding: { top: 13, bottom: 0 } };
  } else if (p.axisTitles === 'bottom') {
    xTitle = { display: true, text: 'Time in sec', color: '#262626', font: { family: serifNarrow, size: 28, lineHeight: 1 }, padding: { top: 0, bottom: 1 } };
    yTitle = { display: true, text: 'Flexion  Amplitude', color: '#262626', font: { family: serifNarrow, size: 28, lineHeight: 1 }, padding: { top: 27, bottom: 0 } };
  }

  const datasets = p.series.map((s, i) => ({
    label: SERIES[i],
    data: s,
    borderColor: COLORS[i],
    backgroundColor: COLORS[i],
    borderWidth: 1.4,
    pointRadius: 0,
    fill: false,
    tension: 0,
    stepped: p.small ? true : false,
    order: SERIES.length - i
  }));

  new Chart(cv, {
    type: 'line',
    data: { datasets },
    options: {
      responsive: false,
      animation: false,
      devicePixelRatio: 1,
      events: [],
      layout: { padding: { left: 0, top: padTop, right: padRight, bottom: 0 } },
      plugins: {
        legend: { display: false },
        tooltip: { enabled: false },
        title: {
          display: true, text: p.id, fullSize: false, color: '#000',
          font: { family: serif, size: titleSize, lineHeight: 1, weight: 'normal' },
          padding: { top: 0, bottom: titleGap }
        },
        frame: { xLen: p.small ? 3.5 : 6.5, yLen: p.small ? 3.5 : 4 }
      },
      scales: {
        x: {
          type: 'linear', min: p.x[0], max: p.x[1], bounds: 'data',
          afterFit: s => { s.height = xHeight; },
          afterBuildTicks: s => { s.ticks = p.xt.map(v => ({ value: v })); },
          grid: { display: false, drawTicks: false, tickLength: 0 },
          border: { display: false },
          ticks: { font: { size: tickSize }, color: '#262626', padding: xLabelGap - tickLine / 2, maxRotation: 0, autoSkip: false, callback: v => String(v) },
          title: xTitle
        },
        y: {
          type: 'linear', min: p.y[0], max: p.y[1], bounds: 'data',
          afterFit: s => { s.width = yWidth; },
          afterBuildTicks: s => { s.ticks = p.yt.map(v => ({ value: v })); },
          grid: { display: false, drawTicks: false, tickLength: 0 },
          border: { display: false },
          ticks: { font: { size: tickSize }, color: '#262626', padding: 11, autoSkip: false, callback: v => String(v) },
          title: yTitle
        }
      }
    },
    plugins: [framePlugin]
  });
}

PANELS.forEach(buildPanel);

// ---- Shared legend ----
const LEGEND_LINES = [[70, 119], [248, 299], [404, 454], [574, 627], [714, 765]];
const LEGEND_TEXT_X = [125.7, 305.7, 462, 632, 773];
(function buildLegend() {
  const box = document.getElementById('legend');
  const ox = 64;
  SERIES.forEach((name, i) => {
    const ln = document.createElement('div');
    ln.className = 'ln';
    ln.style.left = (LEGEND_LINES[i][0] - ox) + 'px';
    ln.style.width = (LEGEND_LINES[i][1] - LEGEND_LINES[i][0]) + 'px';
    ln.style.backgroundColor = COLORS[i];
    box.appendChild(ln);
    const tx = document.createElement('div');
    tx.className = 'tx';
    tx.style.left = (LEGEND_TEXT_X[i] - ox) + 'px';
    tx.textContent = name;
    box.appendChild(tx);
  });
})();
</script>
</body>
</html>
